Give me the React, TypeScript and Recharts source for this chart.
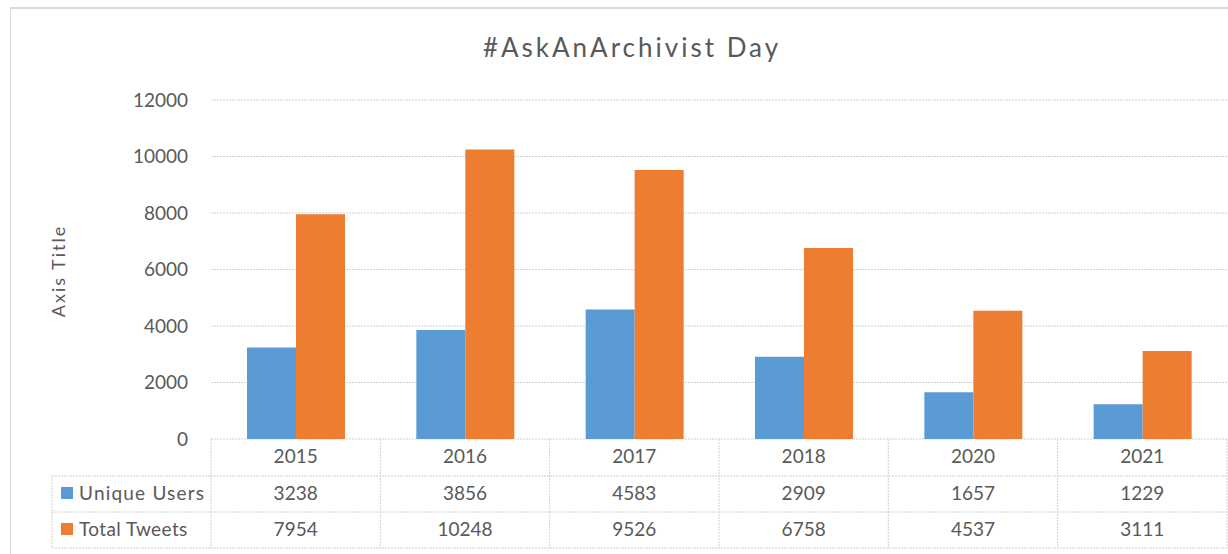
import React from "react";
import { BarChart, Bar, XAxis, YAxis, CartesianGrid } from "recharts";

const categories = ["2015", "2016", "2017", "2018", "2020", "2021"];
const uniqueUsers = [3238, 3856, 4583, 2909, 1657, 1229];
const totalTweets = [7954, 10248, 9526, 6758, 4537, 3111];
const yTicks = [0, 2000, 4000, 6000, 8000, 10000, 12000];
const seriesNames = ["Unique Users", "Total Tweets"];

const data = categories.map((c, i) => ({
  year: c,
  users: uniqueUsers[i],
  tweets: totalTweets[i],
}));

const W = 1228;
const H = 554;
const PLOT_LEFT = 211;
const PLOT_RIGHT = 1227;
const PLOT_BOTTOM = 439;
const BAND = (PLOT_RIGHT - PLOT_LEFT) / categories.length;
const ROW1 = 476;
const ROW2 = 512;
const ROW3 = 548;
const LEG_LEFT = 52;
const FONT = "Lato, 'Open Sans', sans-serif";
const FS = 19;
const TEXT = "#595959";
const LINE = "#d0d0d0";
const BLUE = "#5B9BD5";
const ORANGE = "#ED7D31";

const TableTick = (props: any) => {
  const { x, payload } = props;
  const i = payload.index;
  const right = x + BAND / 2;
  const dash = "2 1";
  return (
    <g>
      {i === 0 && (
        <g>
          <line x1={LEG_LEFT} y1={ROW1} x2={W} y2={ROW1} stroke={LINE} strokeDasharray={dash} />
          <line x1={LEG_LEFT} y1={ROW2} x2={W} y2={ROW2} stroke={LINE} strokeDasharray={dash} />
          <line x1={LEG_LEFT} y1={ROW3} x2={W} y2={ROW3} stroke={LINE} strokeDasharray={dash} />
          <line x1={LEG_LEFT} y1={ROW1} x2={LEG_LEFT} y2={ROW3} stroke={LINE} strokeDasharray={dash} />
          <line x1={PLOT_LEFT} y1={PLOT_BOTTOM} x2={PLOT_LEFT} y2={ROW3} stroke={LINE} strokeDasharray={dash} />
          <rect x={61} y={487} width={12} height={12} fill={BLUE} />
          <text x={79} y={500} fontSize={FS} fill={TEXT} fontFamily={FONT} letterSpacing={1.2}>
            {seriesNames[0]}
          </text>
          <rect x={61} y={523} width={12} height={12} fill={ORANGE} />
          <text x={79} y={536} fontSize={FS} fill={TEXT} fontFamily={FONT} letterSpacing={0.4}>
            {seriesNames[1]}
          </text>
        </g>
      )}
      <line x1={right} y1={PLOT_BOTTOM} x2={right} y2={ROW3} stroke={LINE} strokeDasharray={dash} />
      <text x={x} y={463} textAnchor="middle" fontSize={FS} fill={TEXT} fontFamily={FONT}>
        {payload.value}
      </text>
      <text x={x} y={500} textAnchor="middle" fontSize={FS} fill={TEXT} fontFamily={FONT}>
        {uniqueUsers[i]}
      </text>
      <text x={x} y={536} textAnchor="middle" fontSize={FS} fill={TEXT} fontFamily={FONT}>
        {totalTweets[i]}
      </text>
    </g>
  );
};

export default function App() {
  return (
    <div style={{ position: "fixed", left: 0, top: 0, width: W, height: H, background: "#fff", overflow: "hidden" }}>
      <div
        style={{
          position: "absolute",
          left: 10,
          top: 7,
          width: W,
          height: H,
          borderLeft: "1px solid #d9d9d9",
          borderTop: "2px solid #d9d9d9",
        }}
      />
      <div
        style={{
          position: "absolute",
          left: 0,
          width: 1264,
          top: 30,
          textAlign: "center",
          fontFamily: FONT,
          fontSize: 26,
          color: TEXT,
          lineHeight: "34px",
          letterSpacing: 3,
        }}
      >
        #AskAnArchivist Day
      </div>
      <div
        style={{
          position: "absolute",
          left: 58,
          top: 271,
          transform: "translate(-50%, -50%) rotate(-90deg)",
          fontFamily: FONT,
          fontSize: 18,
          color: TEXT,
          whiteSpace: "nowrap",
          letterSpacing: 2,
        }}
      >
        Axis Title
      </div>
      <div style={{ position: "absolute", left: 0, top: 0 }}>
        <BarChart
          width={W}
          height={H}
          data={data}
          margin={{ top: 100, right: W - PLOT_RIGHT, bottom: 0, left: 0 }}
          barCategoryGap={36}
          barGap={0}
        >
          <CartesianGrid horizontal vertical={false} stroke={LINE} strokeDasharray="2 1" />
          <YAxis
            width={PLOT_LEFT}
            domain={[0, 12000]}
            ticks={yTicks}
            interval={0}
            tickLine={false}
            axisLine={false}
            tickSize={0}
            tickMargin={23}
            tick={{ fill: TEXT, fontSize: FS, fontFamily: FONT }}
          />
          <XAxis
            dataKey="year"
            height={H - PLOT_BOTTOM}
            interval={0}
            axisLine={false}
            tickLine={false}
            tick={<TableTick />}
          />
          <Bar dataKey="users" name={seriesNames[0]} fill={BLUE} isAnimationActive={false} />
          <Bar dataKey="tweets" name={seriesNames[1]} fill={ORANGE} isAnimationActive={false} />
        </BarChart>
      </div>
    </div>
  );
}
